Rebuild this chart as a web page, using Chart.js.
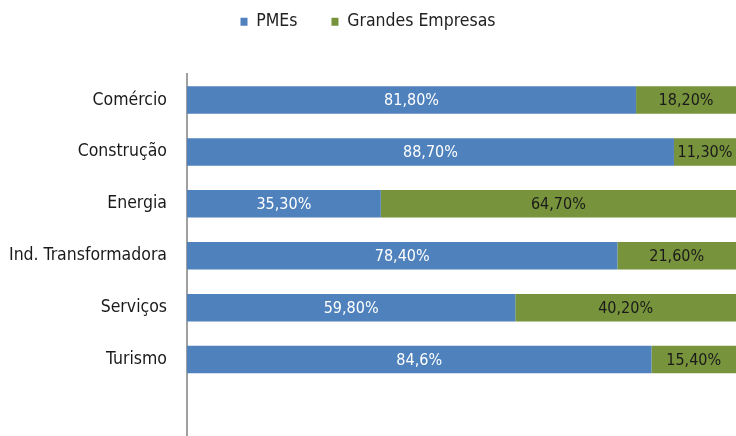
<!DOCTYPE html>
<html>
<head>
<meta charset="utf-8">
<script src="https://cdn.jsdelivr.net/npm/chart.js@4/dist/chart.umd.min.js"></script>
<style>
  html, body { margin: 0; padding: 0; background: #fff; overflow: hidden; }
  #wrap { width: 736px; height: 468px; }
</style>
</head>
<body>
<div id="wrap"><canvas id="sectorChart"></canvas></div>
<script>
// categorias (a ultima fica vazia, o eixo continua ate ao fundo)
const sectors = ['Comércio', 'Construção', 'Energia', 'Ind. Transformadora', 'Serviços', 'Turismo', ''];
const pmeValues = [81.8, 88.7, 35.3, 78.4, 59.8, 84.6];
const grandesValues = [18.2, 11.3, 64.7, 21.6, 40.2, 15.4];
const pmeText = ['81,80%', '88,70%', '35,30%', '78,40%', '59,80%', '84,6%'];
const grandesText = ['18,20%', '11,30%', '64,70%', '21,60%', '40,20%', '15,40%'];

const fontFamily = "'DejaVu Sans Condensed', 'Liberation Sans Narrow', sans-serif";

// escreve o valor no meio de cada segmento
const barLabels = {
    id: 'barLabels',
    afterDatasetsDraw(chart) {
        const ctx = chart.ctx;
        ctx.save();
        ctx.font = '16px ' + fontFamily;
        ctx.textAlign = 'center';
        ctx.textBaseline = 'middle';
        chart.data.datasets.forEach(function (ds, i) {
            const meta = chart.getDatasetMeta(i);
            meta.data.forEach(function (bar, j) {
                const txt = ds.valueText[j];
                if (!txt) return;
                ctx.fillStyle = ds.textColor;
                ctx.fillText(txt, (bar.x + bar.base) / 2, bar.y + 1);
            });
        });
        ctx.restore();
    }
};

// mais espaco entre a legenda e as barras
const legendGap = {
    id: 'legendGap',
    beforeInit(chart) {
        const fit = chart.legend.fit;
        chart.legend.fit = function () {
            fit.bind(chart.legend)();
            this.height += 33.5;
        };
    }
};

const ctx = document.getElementById('sectorChart');
const myChart = new Chart(ctx, {
    type: 'bar',
    data: {
        labels: sectors,
        datasets: [{
            label: 'PMEs',
            data: pmeValues,
            valueText: pmeText,
            textColor: '#ffffff',
            backgroundColor: '#4F81BD',
            borderWidth: 0
        }, {
            label: 'Grandes Empresas',
            data: grandesValues,
            valueText: grandesText,
            textColor: '#1a1a1a',
            backgroundColor: '#77933C',
            borderWidth: 0
        }]
    },
    options: {
        indexAxis: 'y',
        responsive: true,
        maintainAspectRatio: false,
        animation: false,
        categoryPercentage: 1,
        barPercentage: 0.53,
        layout: { padding: { top: -21, right: 0, bottom: 0, left: 0 } },
        plugins: {
            tooltip: { enabled: false },
            legend: {
                position: 'top',
                labels: {
                    boxWidth: 7,
                    boxHeight: 8,
                    padding: 34,
                    color: '#222',
                    font: { family: fontFamily, size: 17.5 }
                }
            }
        },
        scales: {
            x: {
                stacked: true,
                min: 0,
                max: 100,
                display: false
            },
            y: {
                stacked: true,
                afterFit: function (scale) { scale.width = 187; },
                grid: { display: false, drawTicks: false },
                border: { display: true, color: '#a0a0a0', width: 2 },
                ticks: {
                    color: '#1a1a1a',
                    padding: 20,
                    font: { family: fontFamily, size: 17.5 }
                }
            }
        }
    },
    plugins: [barLabels, legendGap]
});
</script>
</body>
</html>
